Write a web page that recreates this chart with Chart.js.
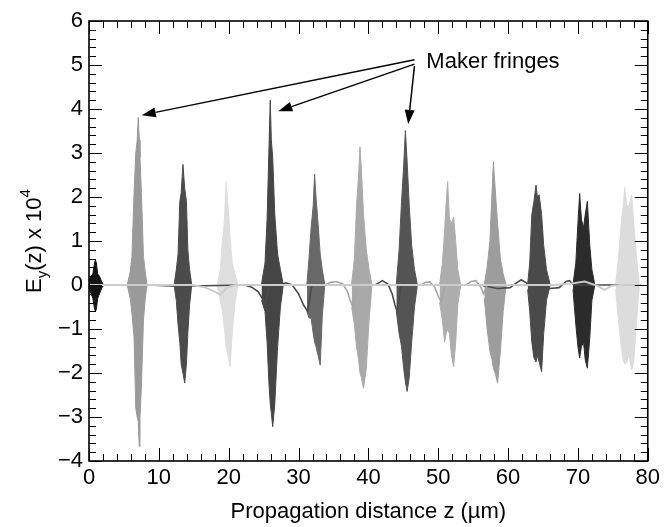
<!DOCTYPE html>
<html>
<head>
<meta charset="utf-8">
<script src="https://cdn.jsdelivr.net/npm/chart.js@4.4.1/dist/chart.umd.min.js"></script>
<style>
  html, body { margin: 0; padding: 0; background: #fff; }
</style>
</head>
<body>
<canvas id="chart" width="664" height="527"></canvas>
<script>
// axis ranges
const xMin = 0, xMax = 80, yMin = -4, yMax = 6;
const xTickLabels = [0, 10, 20, 30, 40, 50, 60, 70, 80];
const yTickLabels = [-4, -3, -2, -1, 0, 1, 2, 3, 4, 5, 6];

// wave packets: z positions, upper envelope, lower envelope
const b1Z = [0.0, 0.3, 0.55, 0.75, 0.9, 1.05, 1.25, 1.5, 1.8, 2.1];
const b1Top = [0.1, 0.2, 0.25, 0.45, 0.58, 0.5, 0.25, 0.2, 0.08, 0.0];
const b1Bot = [-0.1, -0.2, -0.3, -0.5, -0.61, -0.55, -0.3, -0.2, -0.08, 0.0];

const b2Z = [5.5, 5.9, 6.15, 6.45, 6.7, 6.9, 7.05, 7.2, 7.3, 7.5, 7.8, 8.05, 8.3];
const b2Top = [0.02, 0.3, 0.65, 2.1, 3.0, 3.3, 3.81, 3.3, 2.9, 2.1, 0.65, 0.3, 0.02];
const b2Bot = [-0.02, -0.3, -0.65, -1.2, -2.8, -3.0, -3.1, -3.67, -3.0, -2.3, -0.8, -0.3, -0.02];

const b3Z = [12.2, 12.5, 12.75, 13.0, 13.2, 13.45, 13.7, 13.95, 14.15, 14.4, 14.7];
const b3Top = [0.02, 0.35, 0.7, 1.9, 2.1, 2.74, 2.2, 1.9, 0.8, 0.35, 0.02];
const b3Bot = [-0.02, -0.35, -0.9, -1.3, -1.8, -2.0, -2.23, -1.8, -1.1, -0.45, -0.02];

const b4Z = [18.4, 18.8, 19.1, 19.4, 19.63, 19.9, 20.2, 20.5, 20.9, 21.3];
const b4Top = [0.02, 0.35, 1.0, 1.5, 2.35, 1.8, 1.1, 0.5, 0.25, 0.02];
const b4Bot = [-0.02, -0.35, -0.6, -1.0, -1.4, -1.6, -1.86, -1.1, -0.4, -0.02];

const b5Z = [24.7, 25.2, 25.5, 25.75, 25.95, 26.1, 26.3, 26.6, 27.0, 27.4, 27.8];
const b5Top = [0.02, 0.5, 1.5, 3.0, 4.2, 3.3, 2.9, 1.6, 0.7, 0.35, 0.02];
const b5Bot = [-0.35, -0.6, -1.3, -2.2, -2.7, -2.9, -3.22, -2.7, -1.4, -0.5, -0.02];

const b6Z = [31.2, 31.5, 31.8, 32.1, 32.3, 32.5, 32.8, 33.1, 33.4, 33.75];
const b6Top = [0.02, 0.6, 1.3, 1.8, 2.52, 2.0, 1.4, 0.7, 0.35, 0.02];
const b6Bot = [-0.6, -0.75, -0.75, -1.1, -1.3, -1.4, -1.6, -1.82, -0.7, -0.02];

const b7Z = [37.6, 38.0, 38.3, 38.6, 38.8, 39.0, 39.3, 39.7, 40.1, 40.5];
const b7Top = [0.02, 0.6, 1.8, 2.5, 3.14, 2.6, 1.6, 0.8, 0.35, 0.02];
const b7Bot = [-0.5, -0.9, -1.4, -1.7, -2.0, -2.1, -2.35, -1.9, -0.8, -0.02];

const b8Z = [44.0, 44.4, 44.75, 45.05, 45.3, 45.55, 45.85, 46.2, 46.6, 47.0];
const b8Top = [0.02, 0.8, 1.9, 2.7, 3.51, 2.8, 1.8, 0.9, 0.35, 0.02];
const b8Bot = [-0.6, -1.1, -1.4, -1.9, -2.2, -2.42, -2.1, -1.3, -0.5, -0.02];

const b9Z = [50.2, 50.6, 50.9, 51.15, 51.35, 51.6, 51.9, 52.2, 52.5, 52.8, 53.2];
const b9Top = [0.02, 0.5, 1.2, 1.9, 2.35, 1.5, 1.4, 1.55, 1.0, 0.35, 0.02];
const b9Bot = [-0.4, -0.8, -1.3, -1.1, -1.0, -1.1, -1.6, -1.86, -1.3, -0.45, -0.02];

const b10Z = [56.6, 57.0, 57.4, 57.7, 57.9, 58.15, 58.5, 58.9, 59.3, 59.7];
const b10Top = [0.02, 0.4, 1.0, 2.1, 2.8, 2.2, 1.4, 0.6, 0.25, 0.02];
const b10Bot = [-0.3, -1.0, -1.5, -1.7, -1.9, -2.0, -2.23, -1.5, -0.6, -0.02];

const b11Z = [62.8, 63.1, 63.4, 63.7, 64.0, 64.2, 64.45, 64.8, 65.1, 65.5, 66.0];
const b11Top = [0.02, 0.5, 1.6, 1.9, 2.27, 2.0, 2.05, 1.6, 0.9, 0.35, 0.02];
const b11Bot = [-0.1, -0.6, -1.3, -1.65, -1.75, -1.6, -1.75, -1.97, -1.1, -0.35, -0.02];

const b12Z = [69.3, 69.7, 70.0, 70.25, 70.5, 70.8, 71.05, 71.35, 71.7, 72.0, 72.4];
const b12Top = [0.02, 0.5, 1.4, 2.08, 1.5, 1.3, 1.6, 1.9, 0.9, 0.35, 0.02];
const b12Bot = [-0.1, -0.9, -1.4, -1.66, -1.4, -1.3, -1.7, -1.89, -1.2, -0.35, -0.02];

const b13Z = [75.4, 75.8, 76.2, 76.5, 76.7, 77.0, 77.3, 77.7, 78.0, 78.4, 78.8];
const b13Top = [0.02, 0.6, 1.4, 1.8, 2.22, 1.8, 1.8, 2.05, 1.4, 0.6, 0.02];
const b13Bot = [-0.1, -0.8, -1.4, -1.7, -1.8, -1.75, -1.6, -1.93, -1.75, -0.8, -0.02];

const packetColors = ["#141414", "#9a9a9a", "#4b4b4b", "#dedede", "#454545", "#686868", "#a9a9a9",
  "#545454", "#adadad", "#9d9d9d", "#4a4a4a", "#2b2b2b", "#dcdcdc"];

// slowly varying fields near zero
const lightZ = [0, 14.8, 16.5, 18.0, 18.8, 19.8, 21.0, 66.5, 68.5, 71.0, 72.8, 73.8, 74.8, 76.0, 79.0];
const lightV = [0, 0, -0.05, -0.15, -0.22, -0.05, 0, 0, 0.02, 0.08, -0.02, -0.11, -0.02, 0, 0];

const midZ = [33.8, 34.6, 35.4, 36.3, 37.0, 37.4, 37.8, 38.4, 47.5, 48.2, 48.8, 49.5, 50.0, 50.4, 51.0,
  54.0, 54.7, 55.4, 56.1, 56.5, 57.0];
const midV = [0, 0.06, 0.08, 0.03, -0.15, -0.35, -0.5, 0, 0, 0.06, 0.07, -0.05, -0.25, -0.38, 0,
  0, 0.08, 0.1, -0.05, -0.2, 0];

const darkZ = [8.5, 12.4, 22.3, 23.3, 24.2, 24.8, 25.2, 25.8, 27.3, 28.2, 29.1, 30.0, 30.7, 31.3, 31.9, 41.0,
  42.0, 42.8, 43.4, 43.8, 44.1, 44.7, 56.0, 58.5, 60.3, 61.2, 61.9, 62.6, 63.0, 66.0, 67.3, 68.3, 68.8, 69.4, 79.0];
const darkV = [0, -0.03, 0, -0.05, -0.15, -0.3, -0.45, 0, 0, 0.05, 0, -0.2, -0.45, -0.6, 0, 0,
  0.1, 0.02, -0.2, -0.45, -0.6, 0, 0, -0.08, -0.06, 0.05, 0.12, 0.05, 0, -0.08, -0.06, 0.08, 0.1, 0, 0];

// annotation
const noteText = "Maker fringes";
const notePos = [48.3, 5.07];
const arrowFrom = [[46.6, 5.12], [46.6, 5.02], [46.6, 4.98]];
const arrowTo = [[7.55, 3.86], [27.1, 3.95], [45.7, 3.66]];

const packets = [
  [b1Z, b1Top, b1Bot], [b2Z, b2Top, b2Bot], [b3Z, b3Top, b3Bot], [b4Z, b4Top, b4Bot],
  [b5Z, b5Top, b5Bot], [b6Z, b6Top, b6Bot], [b7Z, b7Top, b7Bot], [b8Z, b8Top, b8Bot],
  [b9Z, b9Top, b9Bot], [b10Z, b10Top, b10Bot], [b11Z, b11Top, b11Bot], [b12Z, b12Top, b12Bot],
  [b13Z, b13Top, b13Bot]
];

const FONT = "'Liberation Sans', Arial, Helvetica, sans-serif";
const pts = (zs, vs) => zs.map((z, i) => ({ x: z, y: vs[i] }));

const datasets = [];
datasets.push({ data: pts(lightZ, lightV), borderColor: "#cccccc", borderWidth: 2, fill: false, order: 0 });
datasets.push({ data: pts(midZ, midV), borderColor: "#a6a6a6", borderWidth: 1.6, fill: false, order: 0 });
datasets.push({ data: pts(darkZ, darkV), borderColor: "#4a4a4a", borderWidth: 1.6, fill: false, order: 0 });
packets.forEach((p, i) => {
  const col = packetColors[i];
  datasets.push({ data: pts(p[0], p[1]), borderColor: col, backgroundColor: col, borderWidth: 1, fill: "origin", order: 1 });
  datasets.push({ data: pts(p[0], p[2]), borderColor: col, backgroundColor: col, borderWidth: 1, fill: "origin", order: 1 });
});

const frameAndTicks = {
  id: "frameAndTicks",
  afterDatasetsDraw(chart) {
    const { ctx, chartArea: a, scales: { x, y } } = chart;
    ctx.save();
    ctx.strokeStyle = "#000";
    ctx.lineWidth = 1;
    ctx.beginPath();
    for (let i = 0; i <= 40; i++) {
      const v = xMin + i * 2;
      const px = Math.round(x.getPixelForValue(v)) + 0.5;
      const len = i % 5 === 0 ? 13 : 7;
      ctx.moveTo(px, a.bottom); ctx.lineTo(px, a.bottom - len);
      ctx.moveTo(px, a.top); ctx.lineTo(px, a.top + len);
    }
    for (let i = 0; i <= 50; i++) {
      const v = yMin + i * 0.2;
      const py = Math.round(y.getPixelForValue(v)) + 0.5;
      const len = i % 5 === 0 ? 13 : 7;
      ctx.moveTo(a.left, py); ctx.lineTo(a.left + len, py);
      ctx.moveTo(a.right, py); ctx.lineTo(a.right - len, py);
    }
    ctx.stroke();
    ctx.lineWidth = 1.6;
    ctx.strokeRect(a.left, a.top, a.right - a.left, a.bottom - a.top);

    // arrows
    ctx.fillStyle = "#000";
    ctx.lineWidth = 1.5;
    arrowFrom.forEach((f, i) => {
      const x0 = x.getPixelForValue(f[0]), y0 = y.getPixelForValue(f[1]);
      const x1 = x.getPixelForValue(arrowTo[i][0]), y1 = y.getPixelForValue(arrowTo[i][1]);
      const ang = Math.atan2(y1 - y0, x1 - x0);
      const hl = 14, hw = 5;
      const bx = x1 - hl * Math.cos(ang), by = y1 - hl * Math.sin(ang);
      ctx.beginPath();
      ctx.moveTo(x0, y0); ctx.lineTo(bx, by);
      ctx.stroke();
      ctx.beginPath();
      ctx.moveTo(x1, y1);
      ctx.lineTo(bx + hw * Math.sin(ang), by - hw * Math.cos(ang));
      ctx.lineTo(bx - hw * Math.sin(ang), by + hw * Math.cos(ang));
      ctx.closePath();
      ctx.fill();
    });
    ctx.font = "22px " + FONT;
    ctx.textAlign = "left";
    ctx.textBaseline = "middle";
    ctx.fillText(noteText, x.getPixelForValue(notePos[0]), y.getPixelForValue(notePos[1]));

    // axis titles
    ctx.textAlign = "center";
    ctx.textBaseline = "alphabetic";
    ctx.fillText("Propagation distance z (\u00b5m)", (a.left + a.right) / 2, 518);

    ctx.translate(41, (a.top + a.bottom) / 2);
    ctx.rotate(-Math.PI / 2);
    const parts = [["E", 22, 0], ["y", 15, 6], ["(z) x 10", 22, 0], ["4", 15, -11]];
    let w = 0;
    parts.forEach(p => { ctx.font = p[1] + "px " + FONT; w += ctx.measureText(p[0]).width; });
    let cx = -w / 2;
    ctx.textAlign = "left";
    parts.forEach(p => {
      ctx.font = p[1] + "px " + FONT;
      ctx.fillText(p[0], cx, p[2]);
      cx += ctx.measureText(p[0]).width;
    });
    ctx.restore();
  }
};

new Chart(document.getElementById("chart"), {
  type: "line",
  data: { datasets },
  options: {
    responsive: false,
    animation: false,
    layout: { padding: { left: 0, right: 13, top: 21, bottom: 0 } },
    elements: { point: { radius: 0 }, line: { tension: 0 } },
    plugins: { legend: { display: false }, tooltip: { enabled: false } },
    scales: {
      x: {
        type: "linear", min: xMin, max: xMax,
        afterFit: s => { s.height = 66; },
        afterBuildTicks: s => { s.ticks = xTickLabels.map(v => ({ value: v })); },
        grid: { display: false, drawTicks: false },
        border: { display: false },
        ticks: { color: "#000", font: { family: FONT, size: 22 }, padding: 4, maxRotation: 0 }
      },
      y: {
        type: "linear", min: yMin, max: yMax,
        afterFit: s => { s.width = 89; },
        afterBuildTicks: s => { s.ticks = yTickLabels.map(v => ({ value: v })); },
        grid: { display: false, drawTicks: false },
        border: { display: false },
        ticks: {
          color: "#000", font: { family: FONT, size: 22 }, padding: 6,
          callback: v => (v < 0 ? "\u2212" + Math.abs(v) : String(v))
        }
      }
    }
  },
  plugins: [frameAndTicks]
});
</script>
</body>
</html>
